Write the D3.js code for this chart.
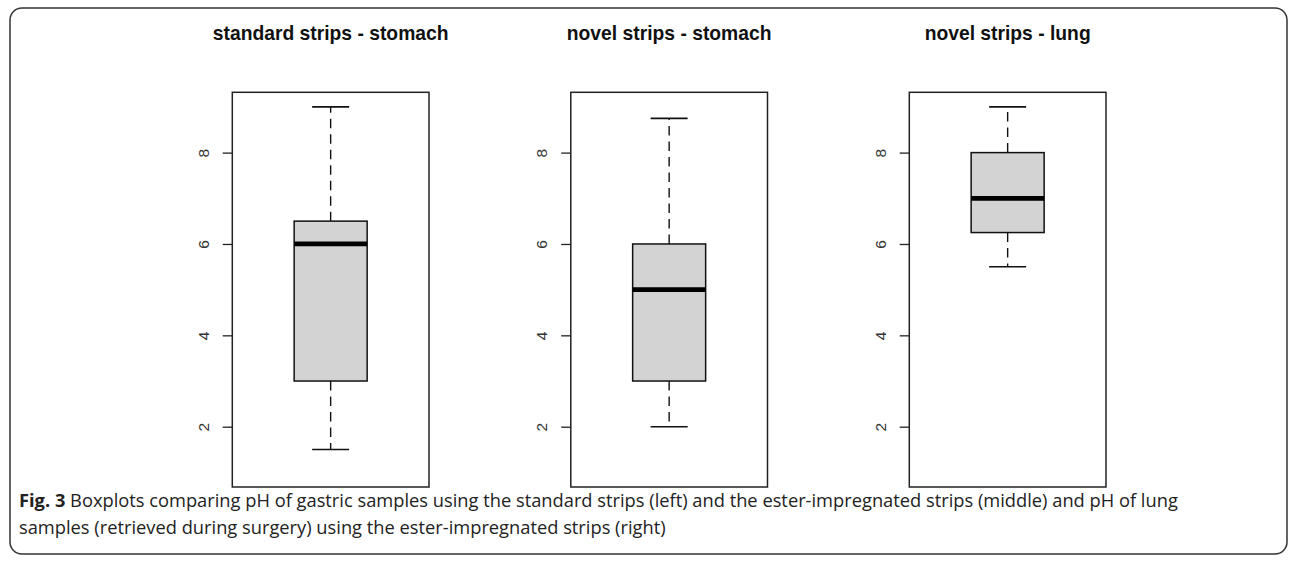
<!DOCTYPE html>
<html><head><meta charset="utf-8">
<script src="https://cdn.jsdelivr.net/npm/d3@7"></script>
<style>body{margin:0;background:#fff;} svg{display:block;}</style>
</head><body>
<svg id="c" width="1290" height="561"></svg>
<script>
const panelTitles = ["standard strips - stomach", "novel strips - stomach", "novel strips - lung"];
const whiskerLow = [1.5, 2, 5.5];
const q1 = [3, 3, 6.25];
const medians = [6, 5, 7];
const q3 = [6.5, 6, 8];
const whiskerHigh = [9, 8.75, 9];
const yTicks = [2, 4, 6, 8];
const captionBold = "Fig. 3";
const captionLines = [" Boxplots comparing pH of gastric samples using the standard strips (left) and the ester-impregnated strips (middle) and pH of lung",
  "samples (retrieved during surgery) using the ester-impregnated strips (right)"];

const svg = d3.select("#c");
// outer rounded frame
svg.append("rect").attr("x", 10).attr("y", 8).attr("width", 1277).attr("height", 546)
  .attr("rx", 12).attr("fill", "none").attr("stroke", "#333").attr("stroke-width", 1.5);

const panelX = d3.scaleBand().domain(d3.range(3)).range([232.3, 232.3 + 338.5 * 3]).paddingInner(0).paddingOuter(0);
const pw = 196.7;
const plotTop = 92.3, plotBottom = 487;
const y = d3.scaleLinear().domain([0.68, 9.32]).range([plotBottom, plotTop]);
const boxW = 73, capW = 37;

d3.range(3).forEach(i => {
  const x0 = panelX(i);
  const g = svg.append("g").attr("transform", `translate(${x0},0)`);
  const cx = pw / 2;
  // title
  svg.append("text").attr("x", x0 + cx).attr("y", 39.5).attr("text-anchor", "middle")
    .attr("font-family", "Liberation Sans, Arial, sans-serif").attr("font-weight", "bold")
    .attr("font-size", 19.3).attr("fill", "#111").text(panelTitles[i]);
  // axis
  const ax = g.append("g").call(d3.axisLeft(y).tickValues(yTicks).tickSize(9.6).tickSizeOuter(0).tickFormat(d3.format("d")));
  ax.select(".domain").remove();
  ax.selectAll(".tick line").attr("stroke", "#222").attr("stroke-width", 1.3);
  ax.selectAll(".tick text").attr("x", 0).attr("dy", 0)
    .attr("transform", "translate(-29,0) rotate(-90)")
    .attr("text-anchor", "middle").attr("dominant-baseline", "central")
    .attr("font-family", "Liberation Sans, Arial, sans-serif").attr("font-size", 15.5).attr("fill", "#333");
  // whiskers
  const dash = "9.5,6";
  g.append("line").attr("x1", cx).attr("x2", cx).attr("y1", y(q3[i])).attr("y2", y(whiskerHigh[i]))
    .attr("stroke", "#111").attr("stroke-width", 1.4).attr("stroke-dasharray", dash);
  g.append("line").attr("x1", cx).attr("x2", cx).attr("y1", y(q1[i])).attr("y2", y(whiskerLow[i]))
    .attr("stroke", "#111").attr("stroke-width", 1.4).attr("stroke-dasharray", dash);
  [whiskerHigh[i], whiskerLow[i]].forEach(v => {
    g.append("line").attr("x1", cx - capW / 2).attr("x2", cx + capW / 2).attr("y1", y(v)).attr("y2", y(v))
      .attr("stroke", "#111").attr("stroke-width", 1.6);
  });
  // box
  g.append("rect").attr("x", cx - boxW / 2).attr("width", boxW).attr("y", y(q3[i])).attr("height", y(q1[i]) - y(q3[i]))
    .attr("fill", "#d3d3d3").attr("stroke", "#111").attr("stroke-width", 1.5);
  g.append("line").attr("x1", cx - boxW / 2).attr("x2", cx + boxW / 2).attr("y1", y(medians[i])).attr("y2", y(medians[i]))
    .attr("stroke", "#000").attr("stroke-width", 4.7);
  // frame
  g.append("rect").attr("x", 0).attr("y", plotTop).attr("width", pw).attr("height", plotBottom - plotTop)
    .attr("fill", "none").attr("stroke", "#222").attr("stroke-width", 1.5);
});

// caption
const cap = svg.append("text").attr("font-family", "Open Sans, sans-serif").attr("font-size", 18.3).attr("fill", "#222");
const l1 = cap.append("tspan").attr("x", 19).attr("y", 507);
l1.append("tspan").attr("font-weight", "bold").text(captionBold);
l1.append("tspan").text(captionLines[0]);
cap.append("tspan").attr("x", 19).attr("y", 534).text(captionLines[1]);
</script>
</body></html>
